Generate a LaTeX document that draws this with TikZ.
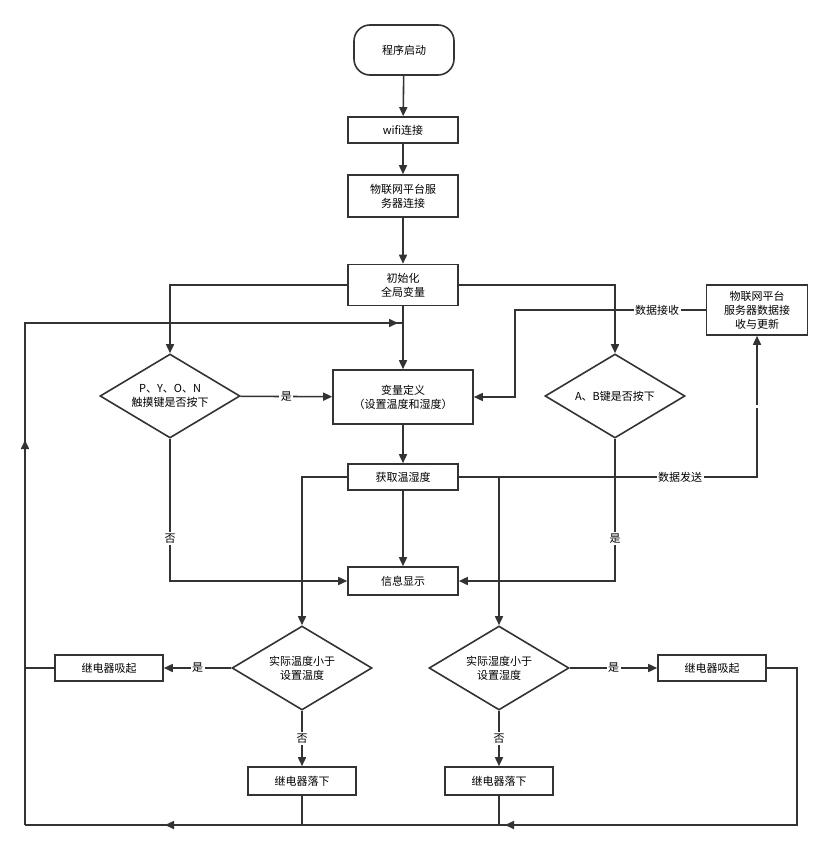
\documentclass[tikz,border=0pt]{standalone}
\usepackage{fontspec}
\setmainfont{Noto Sans CJK SC}
\usetikzlibrary{shapes.geometric,arrows.meta}
\begin{document}
\begin{tikzpicture}[x=1pt,y=-1pt,
  font=\fontsize{11}{14}\selectfont,
  line/.style={draw=black!80,line width=1.6pt},
  arr/.style={line,-{Triangle[length=9pt,width=8pt]}},
  box/.style={draw=black!80,line width=1.6pt,fill=white,minimum width=110pt,minimum height=26pt,align=center,inner sep=1pt},
  dia/.style={diamond,draw=black!80,line width=1.6pt,fill=white,minimum width=140pt,minimum height=84pt,aspect=1.67,align=center,inner sep=0pt},
  lab/.style={fill=white,inner sep=1.5pt}]
\useasboundingbox (0,0) rectangle (834,851);
\node[box,rounded corners=16pt,minimum width=100pt,minimum height=50pt] (start) at (404,50) {程序启动};
\node[box] (wifi) at (403,130) {wifi连接};
\node[box,minimum height=42pt] (iot) at (403,196) {物联网平台服\\务器连接};
\node[box,minimum height=41pt] (init) at (403,285) {初始化\\全局变量};
\node[box,minimum width=140pt,minimum height=54pt] (var) at (403,397) {变量定义\\（设置温度和湿度）};
\node[dia] (pyon) at (170,396) {P、Y、O、N\\触摸键是否按下};
\node[dia] (ab) at (615,396) {A、B键是否按下};
\node[box,minimum width=101pt,minimum height=50pt] (srv) at (757,310) {物联网平台\\服务器数据接\\收与更新};
\node[box] (get) at (403,477) {获取温湿度};
\node[box,minimum height=28pt] (info) at (403,581) {信息显示};
\node[dia] (dt) at (302,668) {实际温度小于\\设置温度};
\node[dia] (dh) at (499,668) {实际湿度小于\\设置湿度};
\node[box,minimum width=108pt] (rl) at (109,668) {继电器吸起};
\node[box,minimum width=108pt] (rr) at (712,668) {继电器吸起};
\node[box,minimum width=108pt,minimum height=28pt] (fl) at (302,781) {继电器落下};
\node[box,minimum width=108pt,minimum height=28pt] (fr) at (499,781) {继电器落下};
\coordinate (bl) at (25,825);
\coordinate (br) at (797,825);
\coordinate (tl) at (25,323);

\draw[arr] (start) -- (wifi);
\draw[arr] (wifi) -- (iot);
\draw[arr] (iot) -- (init);
\draw[arr] (init) -- (var);
\draw[arr] (init.west) -| (pyon.north);
\draw[arr] (init.east) -| (ab.north);
\draw[arr] (pyon) -- node[lab]{是} (var);
\draw[arr] (pyon.south) |- node[lab,pos=0.35]{否} (info.west);
\draw[arr] (ab.south) |- node[lab,pos=0.35]{是} (info.east);
\draw[arr] (srv.west) -- (515,310) |- (var.east);
\node[lab] at (657,310) {数据接收};
\draw[arr] (var) -- (get);
\draw[arr] (get) -- (info);
\draw[arr] (get.east) -| node[lab,pos=0.75]{} (srv.south);
\node[lab] at (680,477) {数据发送};
\draw[arr] (get.west) -| (dt.north);
\draw[arr] (get.east) -| (dh.north);
\draw[arr] (dt) -- node[lab]{是} (rl);
\draw[arr] (dh) -- node[lab]{是} (rr);
\draw[arr] (dt) -- node[lab]{否} (fl);
\draw[arr] (dh) -- node[lab]{否} (fr);
\draw[line] (rr.east) -| (br) -- (bl);
\draw[arr] (br) -- (505,825);
\draw[arr] (bl -| fr) -- (165,825);
\draw[line] (fl.south) -- (fl.south |- bl);
\draw[line] (fr.south) -- (fr.south |- bl);
\draw[line] (rl.west) -- (25,668);
\draw[line] (bl) -- (tl) -- (403,323);
\draw[arr] (bl) -- (25,440);
\draw[arr] (tl) -- (398,323);
\end{tikzpicture}
\end{document}
